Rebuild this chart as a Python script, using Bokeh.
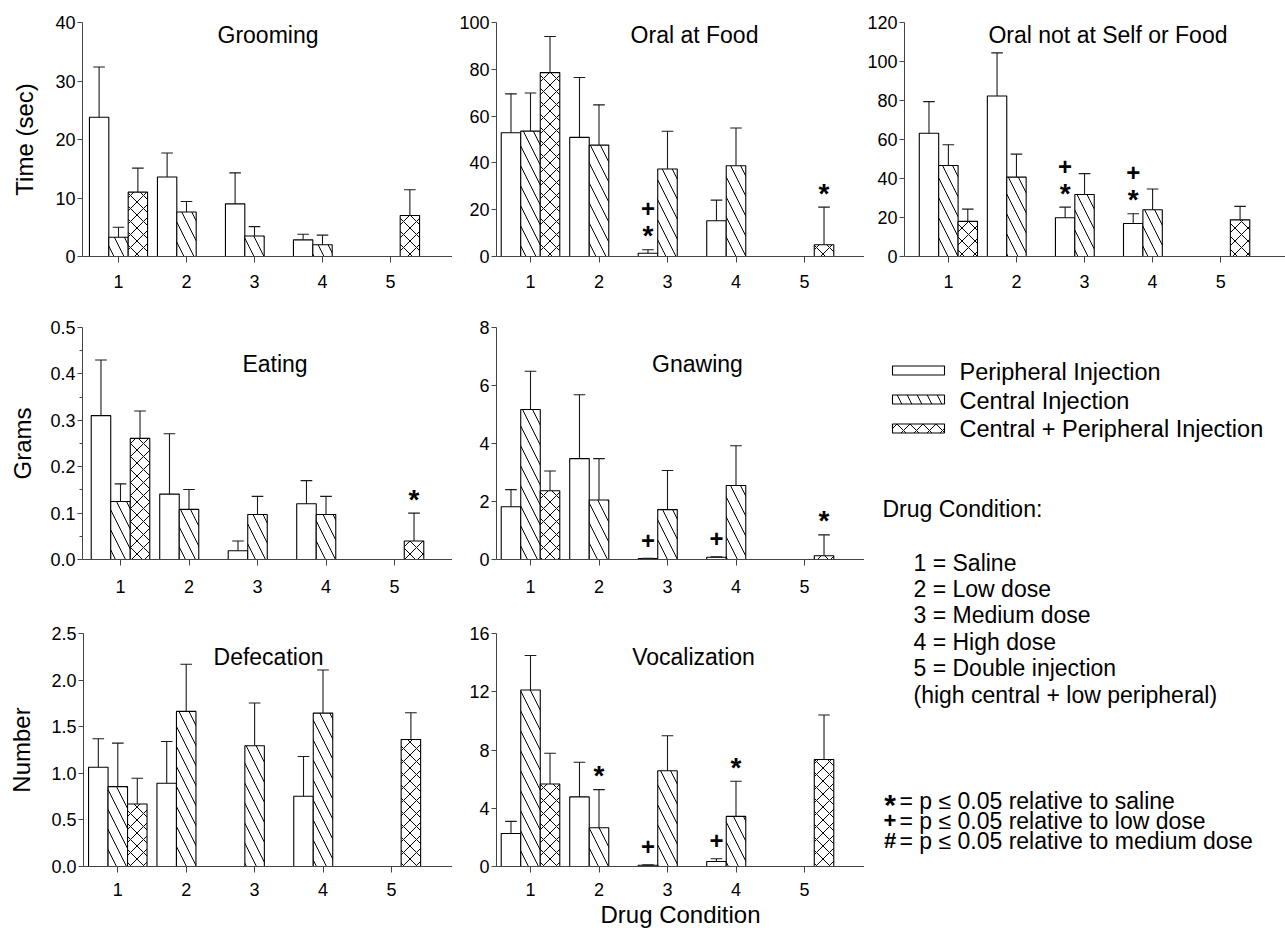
import numpy as np
from bokeh.plotting import figure
from bokeh.models import Range1d, FixedTicker, ColumnDataSource, NumeralTickFormatter, Label
from bokeh.layouts import row, column
from bokeh.core.properties import value
from bokeh.embed import file_html
from bokeh.resources import INLINE

nan = np.nan
FONT = "Liberation Sans"

# ---------------- data ----------------
categories = [1, 2, 3, 4, 5]
series_names = ["Peripheral Injection", "Central Injection", "Central + Peripheral Injection"]
condition_title = "Drug Condition:"
condition_labels = ["1 = Saline", "2 = Low dose", "3 = Medium dose", "4 = High dose",
                    "5 = Double injection", "(high central + low peripheral)"]
sig_symbols = ["*", "+", "#"]
sig_texts = ["= p \u2264 0.05 relative to saline", "= p \u2264 0.05 relative to low dose",
             "= p \u2264 0.05 relative to medium dose"]

# Grooming (Time, sec)
groom_P = [23.8, 13.6, 9.0, 2.85, nan]
groom_P_sem = [8.6, 4.1, 5.3, 0.95, nan]
groom_C = [3.3, 7.6, 3.5, 2.0, nan]
groom_C_sem = [1.7, 1.8, 1.6, 1.65, nan]
groom_X = [11.0, nan, nan, nan, 7.0]
groom_X_sem = [4.1, nan, nan, nan, 4.4]

# Oral at Food (Time, sec)
food_P = [52.9, 50.9, 1.4, 15.3, nan]
food_P_sem = [16.6, 25.6, 1.5, 8.8, nan]
food_C = [53.6, 47.6, 37.4, 38.8, nan]
food_C_sem = [16.3, 17.2, 16.1, 16.1, nan]
food_X = [78.6, nan, nan, nan, 5.0]
food_X_sem = [15.4, nan, nan, nan, 16.1]

# Oral not at Self or Food (Time, sec)
oral_P = [63.2, 82.3, 19.9, 16.9, nan]
oral_P_sem = [16.2, 22.1, 5.4, 5.0, nan]
oral_C = [46.7, 40.7, 31.8, 24.0, nan]
oral_C_sem = [10.6, 11.8, 10.7, 10.6, nan]
oral_X = [18.0, nan, nan, nan, 18.8]
oral_X_sem = [6.3, nan, nan, nan, 6.9]

# Eating (Grams)
eat_P = [0.310, 0.141, 0.019, 0.120, nan]
eat_P_sem = [0.120, 0.130, 0.021, 0.050, nan]
eat_C = [0.125, 0.108, 0.097, 0.097, nan]
eat_C_sem = [0.038, 0.043, 0.039, 0.039, nan]
eat_X = [0.261, nan, nan, nan, 0.040]
eat_X_sem = [0.059, nan, nan, nan, 0.060]

# Gnawing (Grams)
gnaw_P = [1.82, 3.48, 0.03, 0.08, nan]
gnaw_P_sem = [0.59, 2.20, 0.01, 0.01, nan]
gnaw_C = [5.17, 2.05, 1.72, 2.55, nan]
gnaw_C_sem = [1.32, 1.43, 1.35, 1.37, nan]
gnaw_X = [2.37, nan, nan, nan, 0.13]
gnaw_X_sem = [0.68, nan, nan, nan, 0.72]

# Defecation (Number)
defec_P = [1.065, 0.893, nan, 0.753, nan]
defec_P_sem = [0.305, 0.448, nan, 0.427, nan]
defec_C = [0.857, 1.664, 1.295, 1.646, nan]
defec_C_sem = [0.467, 0.506, 0.459, 0.463, nan]
defec_X = [0.671, nan, nan, nan, 1.363]
defec_X_sem = [0.276, nan, nan, nan, 0.287]

# Vocalization (Number)
voc_P = [2.27, 4.78, 0.09, 0.34, nan]
voc_P_sem = [0.83, 2.38, 0.02, 0.19, nan]
voc_C = [12.12, 2.66, 6.57, 3.44, nan]
voc_C_sem = [2.37, 2.62, 2.41, 2.41, nan]
voc_X = [5.67, nan, nan, nan, 7.35]
voc_X_sem = [2.11, nan, nan, nan, 3.05]

# significance marks: (category, series index, symbols from bottom to top)
food_marks = [(3, 0, "*+"), (5, 2, "*")]
oral_marks = [(3, 0, "*+"), (4, 0, "*+")]
eat_marks = [(5, 2, "*")]
gnaw_marks = [(3, 0, "+"), (4, 0, "+"), (5, 2, "*")]
voc_marks = [(2, 1, "*"), (3, 0, "+"), (4, 0, "+"), (4, 1, "*")]

# y tick values
groom_ticks = [0, 10, 20, 30, 40]
food_ticks = [0, 20, 40, 60, 80, 100]
oral_ticks = [0, 20, 40, 60, 80, 100, 120]
eat_ticks = [0.0, 0.1, 0.2, 0.3, 0.4, 0.5]
eat_minor = [0.05, 0.15, 0.25, 0.35, 0.45]
gnaw_ticks = [0, 2, 4, 6, 8]
defec_ticks = [0.0, 0.5, 1.0, 1.5, 2.0, 2.5]
voc_ticks = [0, 4, 8, 12, 16]

# ---------------- styling / layout ----------------
BW = 0.285          # bar width (data units)
OFFS = [-0.285, 0.0, 0.285]
CAP = 0.17
PATTERNS = [None, "\\", "x"]
HSCALE = [1, 20, 13]
STAR_PX, PLUS_PX = 28, 24


def make_panel(g, series, marks, title, ymax, yticks, ylabel=None, ystand=0,
               minor=None, fmt=None, xlabel=None):
    L, R, c1, s, T, B = g["L"], g["R"], g["c1"], g["s"], g["T"], g["B"]
    ox, oy, w, h = g["ox"], g["oy"], g["w"], g["h"]
    x0 = 1 - (c1 - L) / s
    x1 = 1 + (R - c1) / s
    ppu = (B - T) / ymax

    def dx(px):
        return 1 + (px - c1) / s

    def dy(py):
        return ymax * (B - py) / (B - T)

    p = figure(width=w, height=h, x_range=Range1d(x0, x1), y_range=Range1d(0, ymax),
               output_backend="svg", toolbar_location=None,
               min_border_left=L - ox, min_border_right=ox + w - R,
               min_border_top=T - oy, min_border_bottom=oy + h - B)
    p.outline_line_color = None
    p.xgrid.visible = False
    p.ygrid.visible = False
    p.background_fill_color = "white"
    p.border_fill_color = "white"

    cats = np.array(categories, dtype=float)
    for k, (m, e) in enumerate(series):
        m = np.array(m, dtype=float)
        e = np.array(e, dtype=float)
        xs = cats + OFFS[k]
        ok = np.isfinite(m)
        kw = dict(fill_color="white", line_color="black", line_width=1.1)
        if PATTERNS[k] is not None:
            kw.update(hatch_pattern=PATTERNS[k], hatch_scale=HSCALE[k],
                      hatch_color="black", hatch_weight=1.0)
        p.vbar(x=xs[ok], top=m[ok], bottom=0, width=BW, **kw)
        okE = ok & np.isfinite(e)
        tops = m[okE] + e[okE]
        p.segment(x0=xs[okE], y0=m[okE], x1=xs[okE], y1=tops, line_color="#1a1a1a", line_width=1.1)
        p.segment(x0=xs[okE] - CAP / 2, y0=tops, x1=xs[okE] + CAP / 2, y1=tops,
                  line_color="#1a1a1a", line_width=1.1)

    # significance marks (y = visual centre of the symbol)
    star = dict(x=[], y=[], t=[])
    plus = dict(x=[], y=[], t=[])
    for (cat, k, syms) in marks:
        top = series[k][0][cat - 1] + series[k][1][cat - 1]
        for i, sym in enumerate(syms):
            center_up = [18, 41][i]
            if sym == "*":
                up = center_up - 0.14 * STAR_PX
                d = star
            else:
                up = center_up
                d = plus
            d["x"].append(cat + OFFS[k])
            d["y"].append(top + up / ppu)
            d["t"].append(sym)
    if star["x"]:
        p.text(x="x", y="y", text="t", source=ColumnDataSource(star),
               text_font=value(FONT), text_font_style="bold", text_font_size=f"{STAR_PX}px",
               text_align="center", text_baseline="alphabetic", text_color="black")
    if plus["x"]:
        p.text(x="x", y="y", text="t", source=ColumnDataSource(plus),
               text_font=value(FONT), text_font_style="bold", text_font_size=f"{PLUS_PX}px",
               text_align="center", text_baseline="alphabetic", text_color="black")

    # panel title inside the frame
    p.add_layout(Label(x=dx(g["tx"]), y=dy(g["ty"]), text=title, text_align="center",
                       text_baseline="alphabetic", text_font=FONT, text_font_size="23px",
                       text_color="black"))

    # axes
    for ax in (p.xaxis[0], p.yaxis[0]):
        ax.axis_line_color = "#444444"
        ax.axis_line_width = 1
        ax.major_tick_line_color = "#444444"
        ax.minor_tick_line_color = "#444444"
        ax.major_tick_in = 0
        ax.minor_tick_in = 0
        ax.major_label_text_font = FONT
        ax.major_label_text_font_size = "18px"
        ax.major_label_text_color = "black"
    xa = p.xaxis[0]
    xa.ticker = FixedTicker(ticks=categories)
    xa.major_tick_out = 6
    xa.major_label_standoff = g["xst"]
    ya = p.yaxis[0]
    ya.ticker = FixedTicker(ticks=yticks, minor_ticks=(minor or []))
    ya.major_tick_out = 5
    ya.minor_tick_out = 3
    ya.major_label_standoff = 2
    if fmt:
        ya.formatter = NumeralTickFormatter(format=fmt)
    if ylabel:
        ya.axis_label = ylabel
        ya.axis_label_text_font = FONT
        ya.axis_label_text_font_style = "normal"
        ya.axis_label_text_font_size = "24px"
        ya.axis_label_standoff = ystand
        ya.axis_label_text_color = "black"
    if xlabel:
        xa.axis_label = xlabel
        xa.axis_label_text_font = FONT
        xa.axis_label_text_font_style = "normal"
        xa.axis_label_text_font_size = "24px"
        xa.axis_label_standoff = 2
        xa.axis_label_text_color = "black"
    return p


G1 = dict(ox=0, oy=0, w=452, h=300, L=82, R=452, c1=118, s=68.0, T=22, B=256, tx=267.5, ty=34, xst=12)
G2 = dict(ox=452, oy=0, w=412, h=300, L=496, R=864, c1=530, s=68.5, T=22, B=256, tx=694, ty=34, xst=12)
G3 = dict(ox=864, oy=0, w=421, h=300, L=903, R=1285, c1=947, s=68.25, T=22, B=256, tx=1107, ty=34, xst=12)
G4 = dict(ox=0, oy=300, w=452, h=305, L=82, R=452, c1=120, s=68.5, T=327, B=559, tx=274.5, ty=363, xst=14)
G5 = dict(ox=452, oy=300, w=412, h=305, L=496, R=864, c1=530, s=68.5, T=327, B=559, tx=697, ty=363, xst=14)
G6 = dict(ox=0, oy=605, w=452, h=325, L=83, R=452, c1=117.3, s=68.4, T=633, B=866, tx=268, ty=656, xst=10)
G7 = dict(ox=452, oy=605, w=412, h=325, L=496, R=864, c1=530, s=68.5, T=633, B=866, tx=693, ty=656, xst=10)

p1 = make_panel(G1, [(groom_P, groom_P_sem), (groom_C, groom_C_sem), (groom_X, groom_X_sem)], [],
                "Grooming", 40, groom_ticks, ylabel="Time (sec)", ystand=14)
p2 = make_panel(G2, [(food_P, food_P_sem), (food_C, food_C_sem), (food_X, food_X_sem)], food_marks,
                "Oral at Food", 100, food_ticks)
p3 = make_panel(G3, [(oral_P, oral_P_sem), (oral_C, oral_C_sem), (oral_X, oral_X_sem)], oral_marks,
                "Oral not at Self or Food", 120, oral_ticks)
p4 = make_panel(G4, [(eat_P, eat_P_sem), (eat_C, eat_C_sem), (eat_X, eat_X_sem)], eat_marks,
                "Eating", 0.5, eat_ticks, ylabel="Grams", ystand=11, minor=eat_minor, fmt="0.0")
p5 = make_panel(G5, [(gnaw_P, gnaw_P_sem), (gnaw_C, gnaw_C_sem), (gnaw_X, gnaw_X_sem)], gnaw_marks,
                "Gnawing", 8, gnaw_ticks)
p6 = make_panel(G6, [(defec_P, defec_P_sem), (defec_C, defec_C_sem), (defec_X, defec_X_sem)], [],
                "Defecation", 2.5, defec_ticks, ylabel="Number", ystand=13, fmt="0.0")
p7 = make_panel(G7, [(voc_P, voc_P_sem), (voc_C, voc_C_sem), (voc_X, voc_X_sem)], voc_marks,
                "Vocalization", 16, voc_ticks, xlabel="Drug Condition")

# ---------------- legend / notes panel (pixel-like coordinates, origin top-left) ----------------
LW, LH = 421, 630
leg = figure(width=LW, height=LH, x_range=Range1d(0, LW), y_range=Range1d(LH, 0),
             x_axis_type=None, y_axis_type=None, min_border=0,
             output_backend="svg", toolbar_location=None)
leg.outline_line_color = None
leg.grid.visible = False

sw_centers = [70, 99, 128]
for k in range(3):
    kw = dict(fill_color="white", line_color="black", line_width=1.1)
    if PATTERNS[k] is not None:
        kw.update(hatch_pattern=PATTERNS[k], hatch_scale=HSCALE[k], hatch_color="black", hatch_weight=1.0)
    leg.quad(left=[28], right=[80], top=[sw_centers[k] - 4.5], bottom=[sw_centers[k] + 4.5], **kw)

leg.text(x=[95, 95, 95], y=[71.5, 100, 128.5], text=series_names, text_font=value(FONT),
         text_font_size="23.5px", text_baseline="alphabetic", text_align="left", text_color="black")
leg.text(x=[18], y=[208.5], text=[condition_title], text_font=value(FONT),
         text_font_size="23px", text_baseline="alphabetic", text_align="left", text_color="black")
leg.text(x=[49] * len(condition_labels), y=[262 + 26.4 * i for i in range(len(condition_labels))],
         text=condition_labels, text_font=value(FONT), text_font_size="23px",
         text_baseline="alphabetic", text_align="left", text_color="black")

sym_sizes = [30, 22, 22]
sym_shift = [0.14, 0.0, 0.0]
sym_centers = [500, 520, 540]
for i in range(3):
    leg.text(x=[25.5], y=[sym_centers[i] + sym_shift[i] * sym_sizes[i]], text=[sig_symbols[i]],
             text_font=value(FONT), text_font_style="bold", text_font_size=f"{sym_sizes[i]}px",
             text_baseline="alphabetic", text_align="center", text_color="black")
leg.text(x=[35] * 3, y=[500, 520, 540], text=sig_texts, text_font=value(FONT),
         text_font_size="23px", text_baseline="alphabetic", text_align="left", text_color="black")

layout = column(row(p1, p2, p3), row(column(row(p4, p5), row(p6, p7)), leg))

open("out.html", "w").write(file_html(layout, INLINE))
